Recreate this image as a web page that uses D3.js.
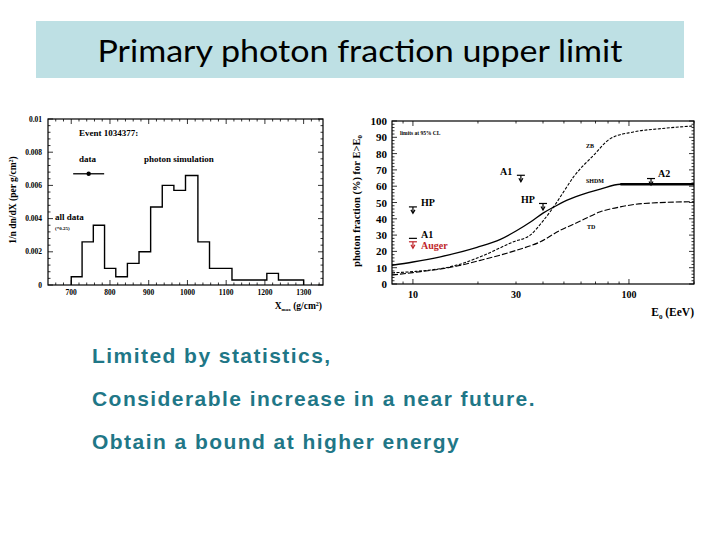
<!DOCTYPE html>
<html>
<head>
<meta charset="utf-8">
<script src="https://cdn.jsdelivr.net/npm/d3@7"></script>
<style>
  body { margin: 0; background: #fff; }
  svg text { font-family: "Liberation Serif", serif; font-weight: bold; }
</style>
</head>
<body>
<svg width="720" height="540"></svg>
<script>
// left plot: Xmax histogram
const histEdges = [700, 728, 757, 786, 815, 845, 875, 905, 935, 965, 995, 1027, 1057, 1115, 1205, 1235, 1300];
const histValues = [0.0005, 0.0026, 0.0036, 0.001, 0.0005, 0.0013, 0.002, 0.0047, 0.006, 0.0057, 0.0066, 0.0026, 0.001, 0.0003, 0.0007, 0.0003];
const xmaxTicks = [700, 800, 900, 1000, 1100, 1200, 1300];
const densTicks = [0, 0.002, 0.004, 0.006, 0.008, 0.01];
const dataPoint = {x: 745, y: 0.0067, xerr: 40};

// right plot: photon fraction vs E0
const shdmE = [8, 10, 13.4, 19.8, 25.4, 30, 35, 40, 45, 50, 59.5, 73.7, 91.2, 200];
const shdmF = [11.5, 13.5, 16.7, 22.5, 27.4, 32.5, 38, 43.5, 47.3, 50.5, 54.5, 58.2, 61.2, 61.2];
const zbE = [8, 10, 16, 20.5, 29.2, 34.9, 40.3, 44.8, 49.8, 55.4, 68.6, 82, 105, 140, 200];
const zbF = [6.9, 7.6, 11.6, 16.7, 25.9, 30, 39.2, 47.3, 56.5, 65.7, 79, 89.2, 93.3, 95.3, 97];
const tdE = [8, 10, 16, 20.5, 30.3, 38.9, 48.1, 53.5, 59.5, 73.7, 91.2, 117, 200];
const tdF = [5.5, 7, 11, 14.5, 20.8, 25.9, 33, 35.8, 38.6, 44.3, 47.3, 49.4, 50.5];
const limits = [
  {name: "HP", e: 10, f: 47.3, color: "#000"},
  {name: "A1", e: 10, f: 28, color: "#000"},
  {name: "Auger", e: 10, f: 25.9, color: "#c0262b"},
  {name: "A1", e: 31.6, f: 66.7, color: "#000"},
  {name: "HP", e: 40, f: 49.4, color: "#000"},
  {name: "A2", e: 126.5, f: 64.7, color: "#000"}
];
const fracTicks = [0, 10, 20, 30, 40, 50, 60, 70, 80, 90, 100];
const energyTicks = [10, 30, 100];

const bullets = ["Limited by statistics,", "Considerable increase in a near future.", "Obtain a bound at higher energy"];

const svg = d3.select("svg");

// title box
svg.append("rect").attr("x", 36).attr("y", 21).attr("width", 648).attr("height", 57).attr("fill", "#bee0e4");
svg.append("text").attr("x", 360).attr("y", 62).attr("text-anchor", "middle")
  .style("font-family", "Lato, sans-serif").style("font-weight", "normal").style("font-size", "31px")
  .attr("textLength", 525).attr("lengthAdjust", "spacingAndGlyphs")
  .text("Primary photon fraction upper limit");

// bullet lines
svg.selectAll(".bullet").data(bullets).enter().append("text")
  .attr("class", "bullet")
  .attr("x", 92).attr("y", (d, i) => 363 + i * 43)
  .style("font-family", "Liberation Sans, Arial, sans-serif").style("font-size", "21px")
  .style("font-weight", "bold").style("letter-spacing", "1.45px")
  .attr("fill", "#1f7787")
  .text(d => d);

// ---------- left plot ----------
const x1 = d3.scaleLinear().domain([640, 1350]).range([48, 323]);
const y1 = d3.scaleLinear().domain([0, 0.01]).range([285, 119]);
const g1 = svg.append("g");

function frameTicks(g, xs, ys, xMaj, xMin, yMaj, yMin) {
  const [xa, xb] = xs.range(), [ya, yb] = ys.range();
  g.append("rect").attr("x", xa).attr("y", yb).attr("width", xb - xa).attr("height", ya - yb)
    .attr("fill", "none").attr("stroke", "#000").attr("stroke-width", 1.2);
  const tk = g.append("g").attr("stroke", "#000").attr("stroke-width", 0.8);
  xMaj.forEach(v => {
    tk.append("line").attr("x1", xs(v)).attr("x2", xs(v)).attr("y1", ya).attr("y2", ya - 5);
    tk.append("line").attr("x1", xs(v)).attr("x2", xs(v)).attr("y1", yb).attr("y2", yb + 5);
  });
  xMin.forEach(v => {
    tk.append("line").attr("x1", xs(v)).attr("x2", xs(v)).attr("y1", ya).attr("y2", ya - 2.5);
    tk.append("line").attr("x1", xs(v)).attr("x2", xs(v)).attr("y1", yb).attr("y2", yb + 2.5);
  });
  yMaj.forEach(v => {
    tk.append("line").attr("y1", ys(v)).attr("y2", ys(v)).attr("x1", xa).attr("x2", xa + 5);
    tk.append("line").attr("y1", ys(v)).attr("y2", ys(v)).attr("x1", xb).attr("x2", xb - 5);
  });
  yMin.forEach(v => {
    tk.append("line").attr("y1", ys(v)).attr("y2", ys(v)).attr("x1", xa).attr("x2", xa + 2.5);
    tk.append("line").attr("y1", ys(v)).attr("y2", ys(v)).attr("x1", xb).attr("x2", xb - 2.5);
  });
}

frameTicks(g1, x1, y1, xmaxTicks, d3.range(660, 1350, 20).filter(v => v % 100 != 0),
  densTicks, d3.range(0, 0.01, 0.0004).filter((v, i) => i % 5 != 0));

// histogram outline
var pts = [[histEdges[0], 0]];
histValues.forEach((v, i) => { pts.push([histEdges[i], v]); pts.push([histEdges[i + 1], v]); });
pts.push([histEdges[histEdges.length - 1], 0]);
g1.append("path").datum(pts)
  .attr("d", d3.line().x(d => x1(d[0])).y(d => y1(d[1])))
  .attr("fill", "none").attr("stroke", "#000").attr("stroke-width", 1.4);

g1.selectAll(".xl").data(xmaxTicks).enter().append("text")
  .attr("x", d => x1(d)).attr("y", 295).attr("text-anchor", "middle").style("font-size", "7.5px").text(d => d);
g1.selectAll(".yl").data(densTicks).enter().append("text")
  .attr("x", 42).attr("y", d => y1(d) + 2.5).attr("text-anchor", "end").style("font-size", "7.5px")
  .text(d => d == 0 ? "0" : d3.format("")(+d.toFixed(3)));

g1.append("text").attr("transform", "translate(16,200) rotate(-90)").attr("text-anchor", "middle")
  .style("font-size", "9.5px").html("1/n dn/dX (per g/cm<tspan dy='-3' font-size='6px'>2</tspan><tspan dy='3'>)</tspan>");
g1.append("text").attr("x", 322).attr("y", 309).attr("text-anchor", "end").style("font-size", "9.5px")
  .html("X<tspan dy='2' font-size='5px'>max</tspan><tspan dy='-2'> (g/cm</tspan><tspan dy='-3' font-size='6px'>2</tspan><tspan dy='3'>)</tspan>");

g1.append("text").attr("x", 79).attr("y", 136).style("font-size", "9px").text("Event 1034377:");
g1.append("text").attr("x", 79).attr("y", 162).style("font-size", "9px").text("data");
g1.append("text").attr("x", 144).attr("y", 162).style("font-size", "9px").text("photon simulation");
g1.append("text").attr("x", 55).attr("y", 220).style("font-size", "9px").text("all data");
g1.append("text").attr("x", 55).attr("y", 230).style("font-size", "5px").text("(*0.25)");
g1.append("line").attr("x1", x1(dataPoint.x - dataPoint.xerr)).attr("x2", x1(dataPoint.x + dataPoint.xerr))
  .attr("y1", y1(dataPoint.y)).attr("y2", y1(dataPoint.y)).attr("stroke", "#000").attr("stroke-width", 1.3);
g1.append("circle").attr("cx", x1(dataPoint.x)).attr("cy", y1(dataPoint.y)).attr("r", 2.2).attr("fill", "#000");

// ---------- right plot ----------
const x2 = d3.scaleLog().domain([8, 200]).range([392, 694]);
const y2 = d3.scaleLinear().domain([0, 100]).range([284, 121]);
const g2 = svg.append("g");

frameTicks(g2, x2, y2, [10, 100], [9, 20, 30, 40, 50, 60, 70, 80, 90, 200],
  fracTicks, d3.range(0, 100, 2).filter(v => v % 10 != 0));

function curve(es, fs, dash, w) {
  g2.append("path").datum(es.map((e, i) => [e, fs[i]]))
    .attr("d", d3.line().curve(d3.curveMonotoneX).x(d => x2(d[0])).y(d => y2(d[1])))
    .attr("fill", "none").attr("stroke", "#000").attr("stroke-width", w).attr("stroke-dasharray", dash);
}
curve(zbE, zbF, "3,1.5", 1.1);
curve(tdE, tdF, "6,2", 1.1);
curve(shdmE, shdmF, null, 1.3);
// thick part of SHDM at high energy
g2.append("line").attr("x1", x2(91.2)).attr("x2", x2(200)).attr("y1", y2(61.2)).attr("y2", y2(61.2))
  .attr("stroke", "#000").attr("stroke-width", 2.5);

// upper limit markers
limits.forEach(l => {
  const cx = x2(l.e), cy = y2(l.f);
  const m = g2.append("g").attr("stroke", l.color).attr("fill", "none").attr("stroke-width", 1.2);
  m.append("line").attr("x1", cx - 4).attr("x2", cx + 4).attr("y1", cy).attr("y2", cy);
  if (l.name == "A1" && l.e == 10) return;
  m.append("line").attr("x1", cx).attr("x2", cx).attr("y1", cy).attr("y2", cy + 6);
  m.append("path").attr("d", `M${cx - 2},${cy + 3} L${cx},${cy + 6.5} L${cx + 2},${cy + 3}`);
});

g2.selectAll(".yl").data(fracTicks).enter().append("text")
  .attr("x", 387).attr("y", d => y2(d) + 4).attr("text-anchor", "end").style("font-size", "11px").text(d => d);
g2.selectAll(".xl").data(energyTicks).enter().append("text")
  .attr("x", d => x2(d)).attr("y", 298).attr("text-anchor", "middle").style("font-size", "10px").text(d => d);

g2.append("text").attr("transform", "translate(360,201) rotate(-90)").attr("text-anchor", "middle")
  .style("font-size", "10.5px").html("photon fraction (%) for E&gt;E<tspan dy='2' font-size='7px'>0</tspan>");
g2.append("text").attr("x", 694).attr("y", 316).attr("text-anchor", "end").style("font-size", "11.5px")
  .html("E<tspan dy='3' font-size='7px'>0</tspan><tspan dy='-3'> (EeV)</tspan>");

g2.append("text").attr("x", 400).attr("y", 135).style("font-size", "5.5px").text("limits at 95% CL");
g2.append("text").attr("x", 586).attr("y", 148).style("font-size", "6px").text("ZB");
g2.append("text").attr("x", 586).attr("y", 183).style("font-size", "6px").text("SHDM");
g2.append("text").attr("x", 587).attr("y", 229).style("font-size", "6px").text("TD");
g2.append("text").attr("x", 421).attr("y", 206).style("font-size", "10px").text("HP");
g2.append("text").attr("x", 421).attr("y", 238).style("font-size", "10px").text("A1");
g2.append("text").attr("x", 421).attr("y", 249).style("font-size", "10px").attr("fill", "#c0262b").text("Auger");
g2.append("text").attr("x", 500).attr("y", 175).style("font-size", "10px").text("A1");
g2.append("text").attr("x", 521).attr("y", 203).style("font-size", "10px").text("HP");
g2.append("text").attr("x", 658).attr("y", 177).style("font-size", "10px").text("A2");
</script>
</body>
</html>
